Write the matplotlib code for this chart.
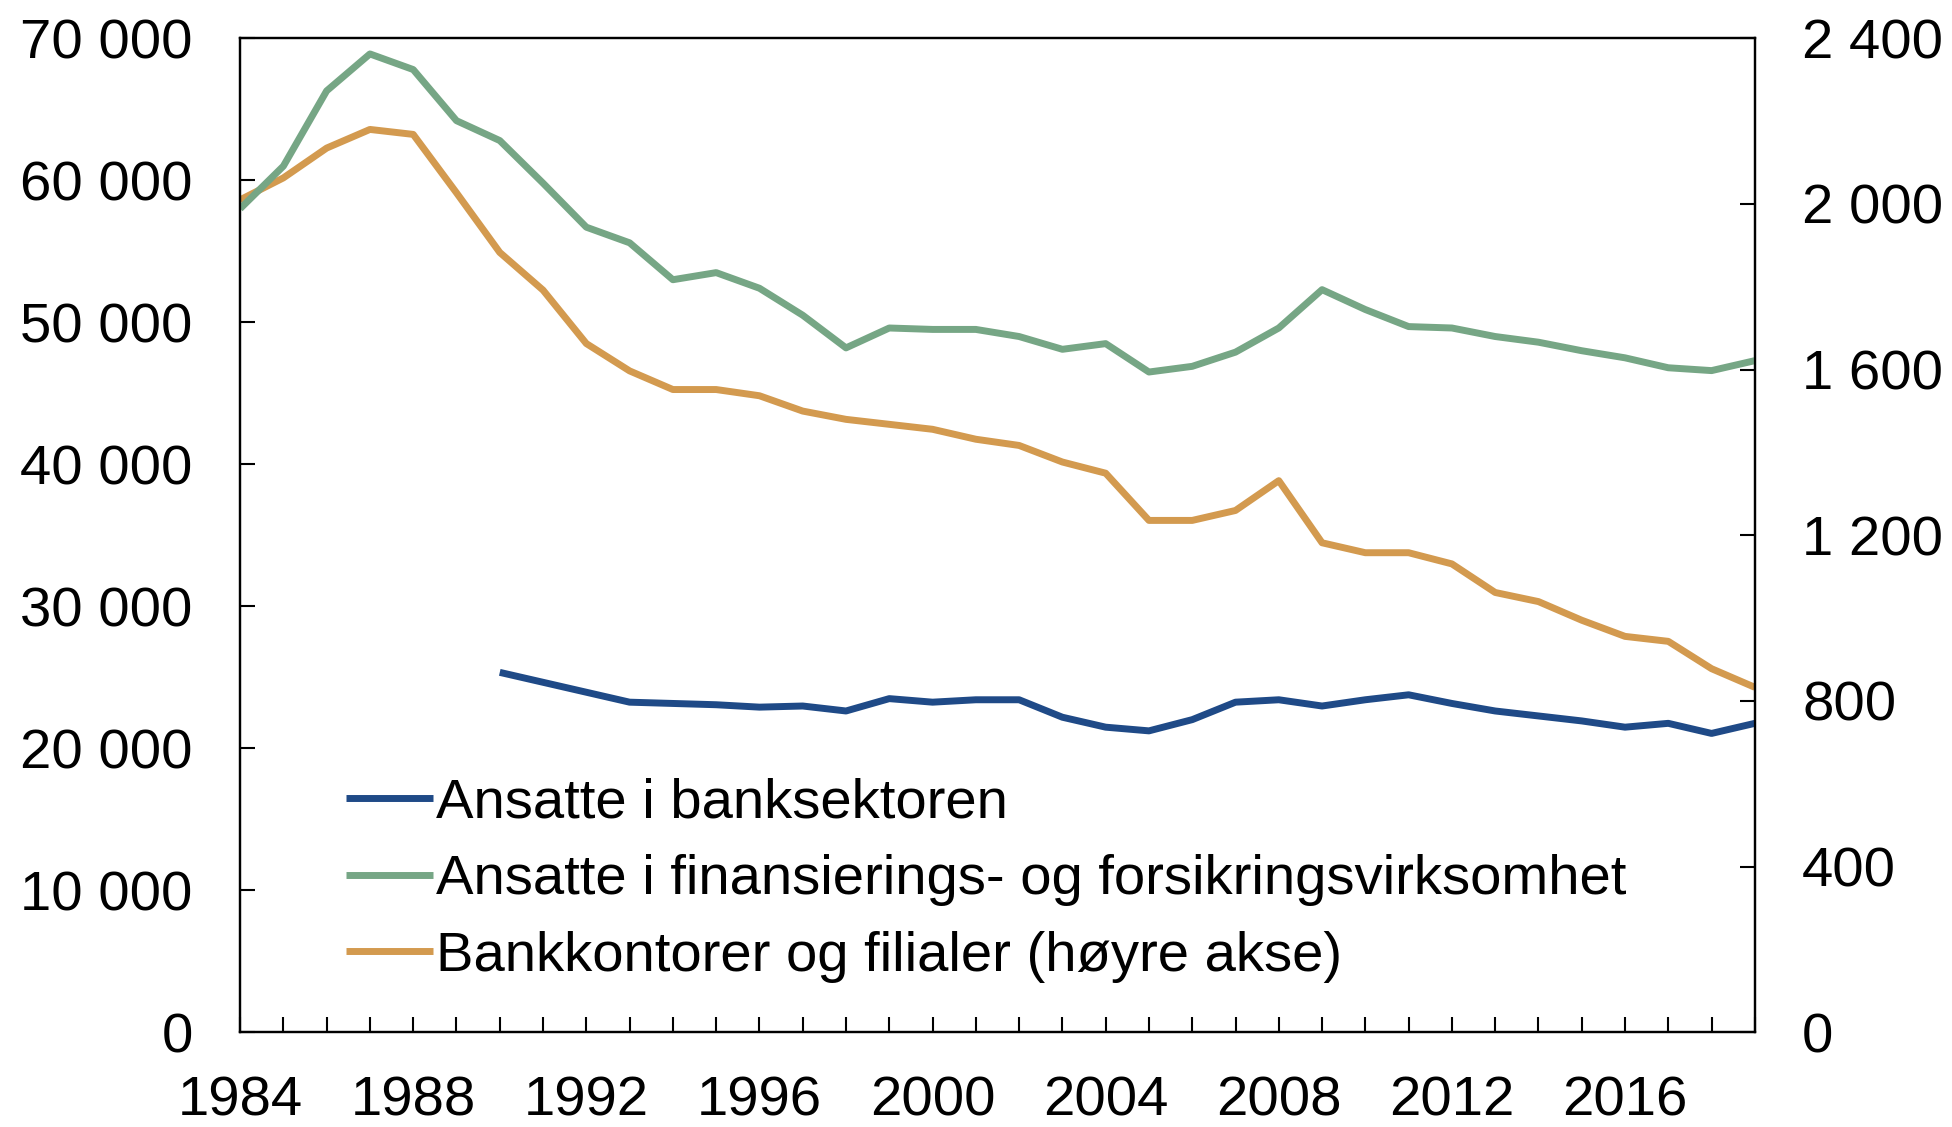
import matplotlib.pyplot as plt
from matplotlib.ticker import FuncFormatter, MultipleLocator

plt.rcParams["font.family"] = ["Liberation Sans", "DejaVu Sans"]
plt.rcParams.update({'font.size': 40.5})

# Data
years = list(range(1984, 2020))
finans = [58000, 61000, 66300, 68900, 67800, 64200, 62800, 59800, 56700, 55600,
          53000, 53500, 52400, 50500, 48200, 49600, 49500, 49500, 49000, 48100,
          48500, 46500, 46900, 47900, 49600, 52300, 50900, 49700, 49600, 49000,
          48600, 48000, 47500, 46800, 46600, 47300]
kontorer = [2010, 2063, 2135, 2180, 2168, 2027, 1883, 1792, 1663, 1597,
            1552, 1552, 1537, 1500, 1480, 1468, 1456, 1432, 1417, 1377,
            1350, 1236, 1236, 1260, 1332, 1182, 1158, 1158, 1131, 1062,
            1040, 995, 956, 944, 878, 833]
bank_years = list(range(1990, 2020))
bank = [25350, 24650, 23950, 23250, 23160, 23070, 22900, 22980, 22630, 23500,
        23250, 23420, 23420, 22190, 21490, 21230, 22020, 23250, 23420, 22980,
        23420, 23770, 23160, 22630, 22280, 21930, 21490, 21760, 21050, 21760]

labels = ["Ansatte i banksektoren",
          "Ansatte i finansierings- og forsikringsvirksomhet",
          "Bankkontorer og filialer (høyre akse)"]
colors = ["#1f4a87", "#76a685", "#d39a4f"]


def space_thousands(v, pos):
    return f"{int(v):,}".replace(",", " ")


fig = plt.figure(figsize=(19.52, 11.27), dpi=100)
ax = fig.add_axes([0.123, 0.084, 0.776, 0.882])
ax2 = ax.twinx()

l1, = ax.plot(bank_years, bank, color=colors[0], lw=5, solid_capstyle='butt')
l2, = ax.plot(years, finans, color=colors[1], lw=5, solid_capstyle='butt')
l3, = ax2.plot(years, kontorer, color=colors[2], lw=5, solid_capstyle='butt')
ax.set_zorder(ax2.get_zorder() + 1)
ax.patch.set_visible(False)

ax.set_xlim(1984, 2019)
ax.set_ylim(0, 70000)
ax2.set_ylim(0, 2400)

ax.xaxis.set_major_locator(MultipleLocator(4))
ax.xaxis.set_minor_locator(MultipleLocator(1))
ax.yaxis.set_major_locator(MultipleLocator(10000))
ax2.yaxis.set_major_locator(MultipleLocator(400))
ax.yaxis.set_major_formatter(FuncFormatter(space_thousands))
ax2.yaxis.set_major_formatter(FuncFormatter(space_thousands))

ax.tick_params(axis='x', which='both', direction='in', length=11, width=1.5, pad=31)
ax.tick_params(axis='y', direction='in', length=11, width=1.5, pad=34)
ax2.tick_params(axis='y', direction='in', length=11, width=1.5, pad=34)
for a in (ax, ax2):
    for s in a.spines.values():
        s.set_linewidth(1.6)

ax.legend([l1, l2, l3], labels, loc='lower left', bbox_to_anchor=(0.055, 0.027),
          frameon=False, handlelength=1.55, handletextpad=0.05, labelspacing=0.44,
          borderaxespad=0)

plt.savefig("out.png", dpi=100)
